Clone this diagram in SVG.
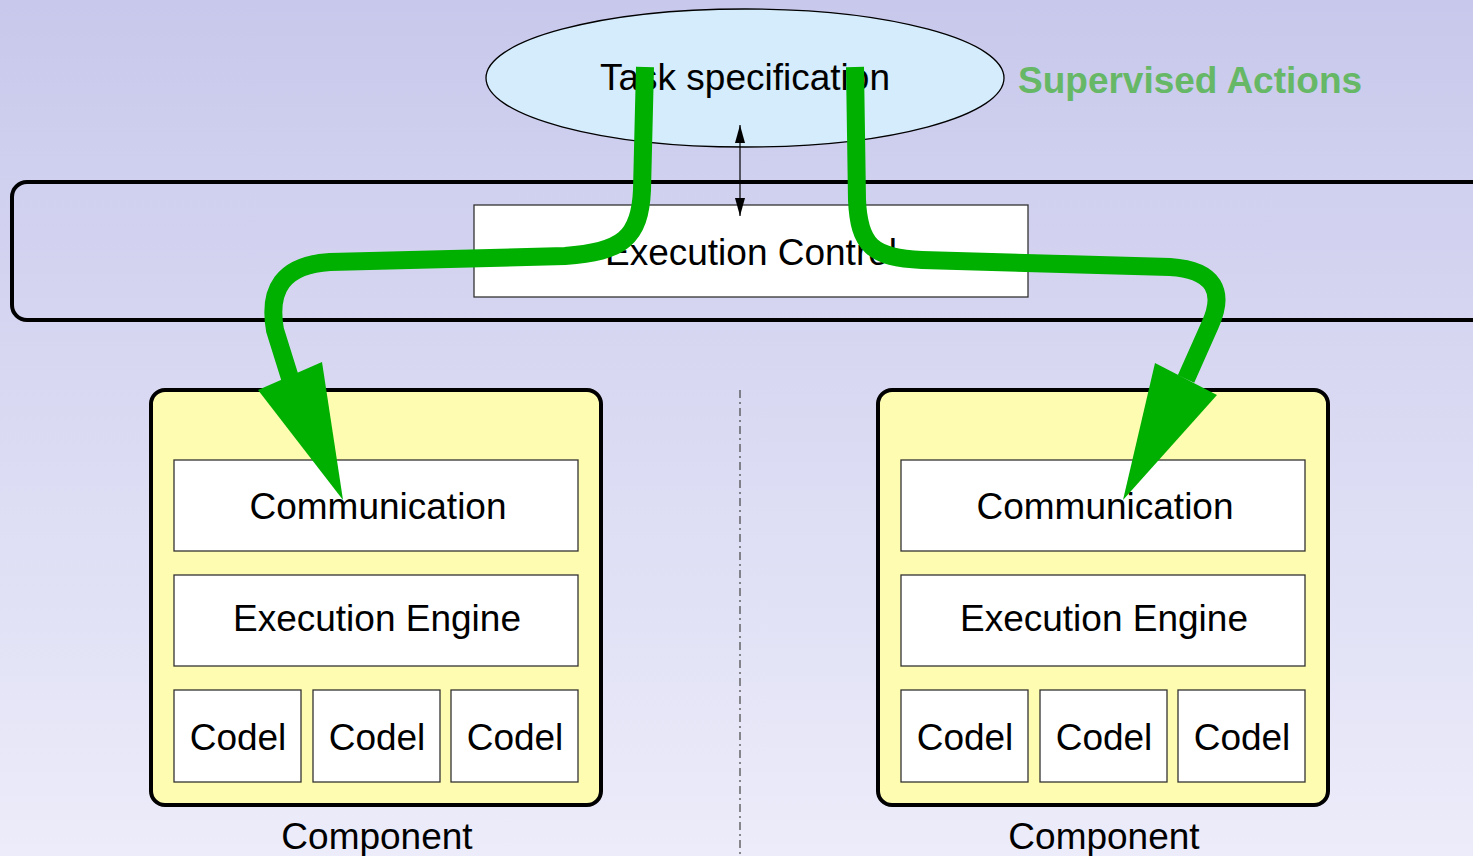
<svg xmlns="http://www.w3.org/2000/svg" width="1473" height="856" viewBox="0 0 1473 856">
<style>
text{font-family:"Liberation Sans",Arial,sans-serif;font-size:37px;fill:#000;text-anchor:middle}
.box{fill:#fff;stroke:#333;stroke-width:1.3}
.comp{fill:#fefcb0;stroke:#000;stroke-width:4}
.green{fill:none;stroke:#00b000;stroke-width:18}
.head{fill:#00b000}
</style>
<defs>
<linearGradient id="bg" x1="0" y1="0" x2="0" y2="1">
<stop offset="0" stop-color="#c8c8ec"/>
<stop offset="1" stop-color="#ececfa"/>
</linearGradient>
<marker id="ah" viewBox="0 0 18 10" refX="18" refY="5" markerWidth="18" markerHeight="10" markerUnits="userSpaceOnUse" orient="auto-start-reverse">
<path d="M0,0 L18,5 L0,10 z" fill="#000"/>
</marker>
</defs>
<rect x="0" y="0" width="1473" height="856" fill="url(#bg)"/>
<g id="layer">
<rect x="12" y="182" width="1480" height="138" rx="15" fill="none" stroke="#000" stroke-width="4"/>
</g>
<g id="task">
<ellipse cx="745" cy="78" rx="259" ry="69" fill="#d4ecfb" stroke="#000" stroke-width="1.3"/>
<text x="745" y="90">Task specification</text>
</g>
<text x="1018" y="93" style="font-weight:bold;fill:#66b866;text-anchor:start">Supervised Actions</text>
<g id="execctl">
<rect class="box" x="474" y="205" width="554" height="92"/>
<text x="751" y="265">Execution Control</text>
</g>
<g id="comp1">
<rect class="comp" x="151" y="390" width="450" height="415" rx="14"/>
<rect class="box" x="174" y="460" width="404" height="91"/>
<text x="378" y="519">Communication</text>
<rect class="box" x="174" y="575" width="404" height="91"/>
<text x="377" y="631">Execution Engine</text>
<rect class="box" x="174" y="690" width="127" height="92"/>
<text x="238" y="750">Codel</text>
<rect class="box" x="313" y="690" width="127" height="92"/>
<text x="377" y="750">Codel</text>
<rect class="box" x="451" y="690" width="127" height="92"/>
<text x="515" y="750">Codel</text>
<text x="377" y="849">Component</text>
</g>
<g id="comp2">
<rect class="comp" x="878" y="390" width="450" height="415" rx="14"/>
<rect class="box" x="901" y="460" width="404" height="91"/>
<text x="1105" y="519">Communication</text>
<rect class="box" x="901" y="575" width="404" height="91"/>
<text x="1104" y="631">Execution Engine</text>
<rect class="box" x="901" y="690" width="127" height="92"/>
<text x="965" y="750">Codel</text>
<rect class="box" x="1040" y="690" width="127" height="92"/>
<text x="1104" y="750">Codel</text>
<rect class="box" x="1178" y="690" width="127" height="92"/>
<text x="1242" y="750">Codel</text>
<text x="1104" y="849">Component</text>
</g>
<g id="connectors">
<line x1="740" y1="390" x2="740" y2="856" stroke="#444" stroke-width="1.2" stroke-dasharray="8,4,2,4"/>
<line x1="740" y1="125" x2="740" y2="216" stroke="#000" stroke-width="1.2" marker-start="url(#ah)" marker-end="url(#ah)"/>
<path class="green" d="M645,67 L642,190 C640,238 622,252 565,256 L330,262 C282,265 268,290 275,330 L290,378"/>
<polygon class="head" points="258,390 322,362 343,500"/>
<path class="green" d="M855,67 L857,200 C859,245 872,258 922,260 L1170,267 C1215,270 1225,292 1210,325 L1186,379"/>
<polygon class="head" points="1155,363 1217,395 1123,500"/>
</g>
</svg>
